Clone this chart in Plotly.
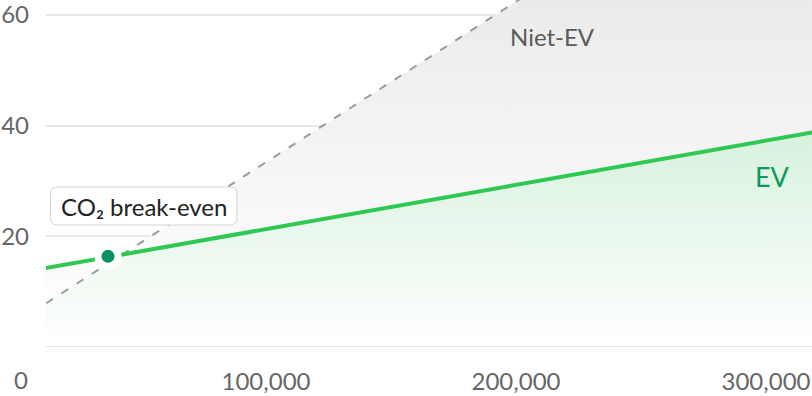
import plotly.graph_objects as go

# ---- data ----
km = [0, 100000, 200000, 300000, 320000]
ev_co2 = [13.3, 21.3, 29.3, 37.3, 38.9]
non_ev_co2 = [4.4, 33.4, 62.4, 91.4, 97.2]
breakeven_km = [36800]
breakeven_co2 = [16.4]
y_ticks = [0, 20, 40, 60]
y_ticktext = ["", "20", "40", "60"]
x_ticks = [100000, 200000, 300000]
x_ticktext = ["100,000", "200,000", "300,000"]

# ---- layout geometry ----
W, H = 812, 396
L, R, T, B = 46, 812, 0, 347
XR = [12000, 318400]
YR = [0, 62.7]
FONT = "Lato, 'Open Sans', sans-serif"


def xd(p):
    return XR[0] + (p - L) / (R - L) * (XR[1] - XR[0])


def yd(p):
    return YR[0] + (B - p) / (B - T) * (YR[1] - YR[0])


def xp(p):
    return (p - L) / (R - L)


def yp(p):
    return 1 - (p - T) / (B - T)


fig = go.Figure()

# green area under EV line
fig.add_trace(go.Scatter(
    x=km, y=ev_co2, mode="lines", line=dict(width=0, color="rgba(0,0,0,0)"),
    fill="tozeroy",
    fillgradient=dict(type="vertical",
                      colorscale=[[0, "rgba(255,255,255,1)"], [1, "#d6f1dc"]],
                      start=0, stop=40),
    hoverinfo="skip", showlegend=False))

# grey area between EV and non-EV, dashed non-EV line
fig.add_trace(go.Scatter(
    x=km, y=non_ev_co2, mode="lines",
    line=dict(width=2, color="#9b9b9b", dash="8px,10px"),
    fill="tonexty",
    fillgradient=dict(type="vertical",
                      colorscale=[[0, "#fdfdfd"], [1, "#ebebeb"]],
                      start=10, stop=62.7),
    hoverinfo="skip", showlegend=False))

# EV line on top
fig.add_trace(go.Scatter(
    x=km, y=ev_co2, mode="lines", line=dict(width=4, color="#2ec852"),
    hoverinfo="skip", showlegend=False))

# break-even point (halo + dot)
fig.add_trace(go.Scatter(
    x=breakeven_km, y=breakeven_co2, mode="markers",
    marker=dict(size=27, color="white", line=dict(width=0)),
    hoverinfo="skip", showlegend=False))
fig.add_trace(go.Scatter(
    x=breakeven_km, y=breakeven_co2, mode="markers",
    marker=dict(size=13, color="#0a9161", line=dict(width=0)),
    hoverinfo="skip", showlegend=False))

# baseline gridline at 0 (plotly hides gridlines on the plot edge)
fig.add_shape(type="line", xref="paper", x0=0, x1=1, yref="y", y0=0, y1=0,
              line=dict(color="#e7e7e7", width=2), layer="above")

# rounded label box
x0, x1, y0, y1, r = 50.5, 237, 187, 225, 7
pts = [
    ("M", [(x0 + r, y0)]), ("L", [(x1 - r, y0)]), ("Q", [(x1, y0), (x1, y0 + r)]),
    ("L", [(x1, y1 - r)]), ("Q", [(x1, y1), (x1 - r, y1)]),
    ("L", [(x0 + r, y1)]), ("Q", [(x0, y1), (x0, y1 - r)]),
    ("L", [(x0, y0 + r)]), ("Q", [(x0, y0), (x0 + r, y0)]),
]
path = " ".join(cmd + " " + " ".join(f"{xp(a):.5f},{yp(b):.5f}" for a, b in c) for cmd, c in pts) + " Z"
fig.add_shape(type="path", path=path, xref="paper", yref="paper",
              fillcolor="white", line=dict(color="#d4d4d4", width=1), layer="above")

fig.add_annotation(x=xp(144), y=yp(206), xref="paper", yref="paper",
                   text="CO₂ break-even", showarrow=False,
                   font=dict(family=FONT, size=24, color="#222222"),
                   xanchor="center", yanchor="middle")
fig.add_annotation(x=xd(552), y=yd(36), text="Niet-EV", showarrow=False,
                   font=dict(family=FONT, size=24, color="#5a5a5a"),
                   xanchor="center", yanchor="middle")
fig.add_annotation(x=xd(772), y=yd(176), text="EV", showarrow=False,
                   font=dict(family=FONT, size=27, color="#0b9a5e"),
                   xanchor="center", yanchor="middle")
fig.add_annotation(x=xp(21), y=yp(380), xref="paper", yref="paper",
                   text="0", showarrow=False,
                   font=dict(family=FONT, size=24, color="#666666"),
                   xanchor="center", yanchor="middle")

fig.update_layout(
    width=W, height=H,
    margin=dict(l=L, r=W - R, t=T, b=H - B, pad=0),
    paper_bgcolor="white", plot_bgcolor="white",
    template="none",
    font=dict(family=FONT, size=24, color="#666666"),
    xaxis=dict(range=XR, tickvals=x_ticks, ticktext=x_ticktext,
               showgrid=False, zeroline=False, showline=False, ticks="",
               automargin=False, ticklabelstandoff=18, ticklabeloverflow="allow",
               tickfont=dict(family=FONT, size=24, color="#666666")),
    yaxis=dict(range=YR, tickvals=y_ticks, ticktext=y_ticktext,
               showgrid=True, gridcolor="#e7e7e7", gridwidth=2,
               zeroline=False, showline=False, ticks="",
               automargin=False, ticklabelstandoff=16, ticklabeloverflow="allow",
               tickfont=dict(family=FONT, size=24, color="#666666")),
)

fig.write_html("out.html", config={"displayModeBar": False},
               post_script="document.body.style.margin='0';document.body.style.overflow='hidden';")
